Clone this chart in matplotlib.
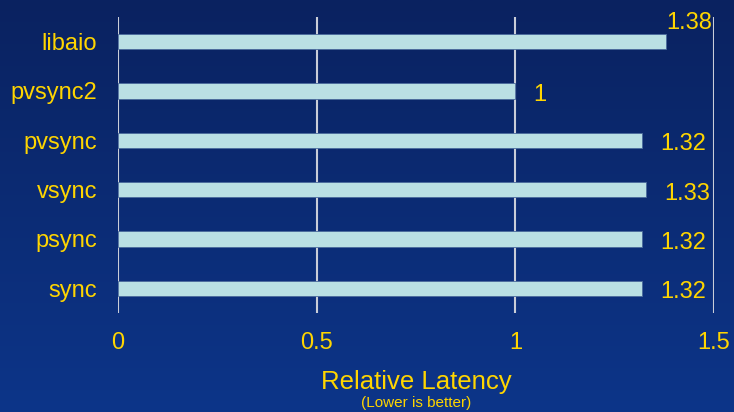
import matplotlib.pyplot as plt
import numpy as np
from matplotlib.colors import LinearSegmentedColormap

plt.rcParams['font.family'] = ['Liberation Sans', 'DejaVu Sans']

engines = ['sync', 'psync', 'vsync', 'pvsync', 'pvsync2', 'libaio']
latency = [1.32, 1.32, 1.33, 1.32, 1.0, 1.38]
x_ticks = [0, 0.5, 1, 1.5]
x_tick_labels = ['0', '0.5', '1', '1.5']

YELLOW = '#FFD500'
BAR = '#BAE0E4'
GRID = '#C9CDD8'

fig = plt.figure(figsize=(7.34, 4.12), dpi=100)

# dark-to-lighter blue backdrop
bg = fig.add_axes([0, 0, 1, 1], zorder=-10)
grad = LinearSegmentedColormap.from_list('bg', ['#0A2260', '#0D3589'])
bg.imshow(np.linspace(0, 1, 256).reshape(-1, 1), aspect='auto', cmap=grad,
          extent=[0, 1, 0, 1])
bg.axis('off')

ax = fig.add_axes([118 / 734, 1 - 313 / 412, (714 - 118) / 734, 296 / 412])
ax.patch.set_visible(False)

y = np.arange(len(engines))
ax.barh(y, latency, height=0.31, color=BAR, edgecolor='#4A6A9C',
        linewidth=0.6, zorder=3)

for yi, v in zip(y, latency):
    label = f'{v:g}'
    if v == max(latency):
        ax.annotate(label, (v, yi), xytext=(0, 15), textcoords='offset points',
                    ha='left', va='center_baseline', color=YELLOW, fontsize=17)
    else:
        ax.annotate(label, (v, yi), xytext=(13, -1), textcoords='offset points',
                    ha='left', va='center_baseline', color=YELLOW, fontsize=17)

ax.set_xlim(0, 1.5)
ax.set_ylim(-0.5, len(engines) - 0.5)
ax.set_xticks(x_ticks)
ax.set_xticklabels(x_tick_labels)
ax.set_yticks(y)
ax.set_yticklabels(engines)
ax.tick_params(axis='both', length=0, labelcolor=YELLOW, labelsize=17)
ax.tick_params(axis='y', pad=15)
ax.tick_params(axis='x', pad=14)
ax.grid(axis='x', color=GRID, linewidth=1.5, zorder=1)
ax.grid(axis='y', visible=False)
for s in ax.spines.values():
    s.set_visible(False)

fig.text(416 / 734, 1 - 382 / 412, 'Relative Latency', color=YELLOW,
         fontsize=18.5, ha='center', va='center')
fig.text(416 / 734, 1 - 403 / 412, '(Lower is better)', color=YELLOW,
         fontsize=11, ha='center', va='center')

fig.savefig('out.png', dpi=100)
